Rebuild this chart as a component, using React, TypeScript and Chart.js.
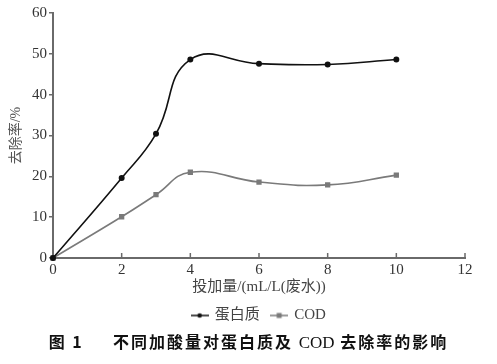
import React, { useEffect, useRef } from "react";
import { Chart, registerables } from "chart.js";

Chart.register(...registerables);

const xValues = [0, 2, 3, 4, 6, 8, 10];
const proteinValues = [0, 19.6, 30.4, 48.6, 47.6, 47.4, 48.6];
const codValues = [0, 10.1, 15.5, 21.0, 18.6, 17.9, 20.3];
const seriesNames = ["蛋白质", "COD"];
const xTitle = "投加量/(mL/L(废水))";
const yTitle = "去除率/%";
const captionLabel = "图 1";
const captionA = "不同加酸量对蛋白质及";
const captionB = "COD";
const captionC = "去除率的影响";

const proteinColor = "#111111";
const codColor = "#7a7a7a";
const axisColor = "#6a6a6a";
const serif = "'Times New Roman', 'Liberation Serif', Tinos, 'DejaVu Serif', serif, 'Noto Sans CJK SC'";

function legendIcon(color: string, square: boolean) {
  const c = document.createElement("canvas");
  c.width = 18;
  c.height = 8;
  const g = c.getContext("2d")!;
  g.strokeStyle = color;
  g.lineWidth = 1.5;
  g.beginPath();
  g.moveTo(0, 4);
  g.lineTo(18, 4);
  g.stroke();
  g.fillStyle = color;
  if (square) {
    g.fillRect(6.5, 1.5, 5, 5);
  } else {
    g.beginPath();
    g.arc(9, 4, 2.3, 0, Math.PI * 2);
    g.fill();
  }
  return c;
}

export default function App() {
  const ref = useRef<HTMLCanvasElement>(null);
  useEffect(() => {
    const icons = [legendIcon(proteinColor, false), legendIcon(codColor, true)];
    const innerTicks = {
      id: "innerTicks",
      afterDraw(chart: any) {
        const xs = chart.scales.x;
        const ctx = chart.ctx;
        ctx.save();
        ctx.strokeStyle = axisColor;
        ctx.lineWidth = 1.5;
        const bottom = chart.chartArea.bottom;
        xs.ticks.forEach((t: any) => {
          if (t.value === 0) return;
          const px = xs.getPixelForValue(t.value);
          ctx.beginPath();
          ctx.moveTo(px, bottom);
          ctx.lineTo(px, bottom - 5);
          ctx.stroke();
        });
        ctx.restore();
      },
    };
    const chart = new Chart(ref.current!, {
      type: "line",
      data: {
        datasets: [
          {
            label: seriesNames[0],
            data: xValues.map((x, i) => ({ x, y: proteinValues[i] })),
            borderColor: proteinColor,
            backgroundColor: proteinColor,
            borderWidth: 1.6,
            pointStyle: "circle",
            pointRadius: 2.2,
            tension: 0.45,
            clip: false as any,
          },
          {
            label: seriesNames[1],
            data: xValues.map((x, i) => ({ x, y: codValues[i] })),
            borderColor: codColor,
            backgroundColor: codColor,
            borderWidth: 1.6,
            pointStyle: "rect",
            pointRadius: 2.6,
            tension: 0.45,
            clip: false as any,
          },
        ],
      },
      options: {
        animation: false,
        responsive: false,
        layout: { padding: { left: 8, top: 13, right: 32, bottom: 0 } },
        scales: {
          x: {
            type: "linear",
            min: 0,
            max: 12,
            ticks: {
              stepSize: 2,
              color: "#333",
              font: { family: serif, size: 15 },
              padding: -5,
            },
            grid: { display: false },
            border: { display: true, color: axisColor, width: 2 },
            title: {
              display: true,
              text: xTitle,
              color: "#444",
              font: { family: serif, size: 15 },
              padding: { top: 0, bottom: 0 },
            },
            afterFit: (s: any) => {
              s.height = 38;
            },
          },
          y: {
            min: 0,
            max: 60,
            ticks: {
              stepSize: 10,
              color: "#333",
              font: { family: serif, size: 15 },
              padding: 2,
            },
            grid: {
              drawOnChartArea: false,
              drawTicks: true,
              tickLength: 4,
              color: axisColor,
              lineWidth: 1.5,
            },
            border: { display: true, color: axisColor, width: 2 },
            title: {
              display: true,
              text: yTitle,
              color: "#555",
              font: { family: serif, size: 14 },
              padding: { top: 0, bottom: 0 },
            },
            afterFit: (s: any) => {
              s.width = 45;
            },
          },
        },
        plugins: {
          legend: {
            position: "bottom",
            fullSize: false,
            labels: {
              color: "#444",
              font: { family: serif, size: 15 },
              usePointStyle: true,
              padding: 12,
              generateLabels: (ch: any) =>
                ch.data.datasets.map((d: any, i: number) => ({
                  text: d.label,
                  pointStyle: icons[i],
                  fillStyle: d.borderColor,
                  strokeStyle: d.borderColor,
                  lineWidth: 0,
                  hidden: false,
                  datasetIndex: i,
                  fontColor: "#444",
                })),
            },
          },
          tooltip: { enabled: false },
        },
      },
      plugins: [innerTicks],
    });
    return () => chart.destroy();
  }, []);
  return (
    <div style={{ position: "absolute", left: 0, top: 0, width: 497, height: 364, background: "#fff" }}>
      <canvas ref={ref} width={497} height={333} style={{ display: "block" }} />
      <div
        style={{
          position: "absolute",
          top: 329,
          left: 0,
          width: 497,
          textAlign: "center",
          fontFamily: "'Noto Sans CJK SC', sans-serif",
          fontWeight: 700,
          fontSize: 16,
          letterSpacing: 2,
          color: "#111",
          whiteSpace: "pre",
        }}
      >
        {captionLabel + "　  " + captionA + " "}
        <span style={{ fontFamily: serif, fontWeight: 400, fontSize: 17, letterSpacing: 0 }}>{captionB}</span>
        {" " + captionC}
      </div>
    </div>
  );
}
